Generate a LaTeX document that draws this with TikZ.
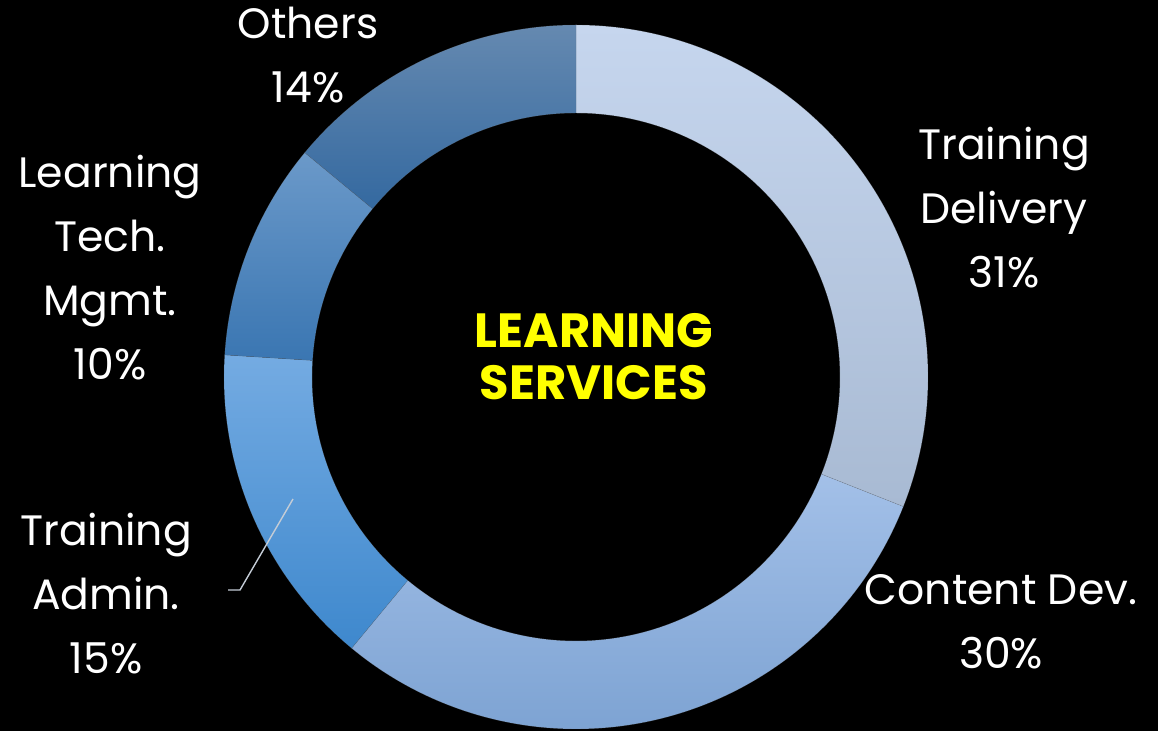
\documentclass[tikz,border=0pt]{standalone}
\usepackage{fontspec}
\setmainfont{Poppins}
\usetikzlibrary{calc}
\definecolor{delT}{HTML}{C6D6EE}\definecolor{delB}{HTML}{A8BAD3}
\definecolor{conT}{HTML}{A3C0E8}\definecolor{conB}{HTML}{7CA2D2}
\definecolor{admT}{HTML}{74ABE2}\definecolor{admB}{HTML}{3E88CD}
\definecolor{lteT}{HTML}{6B99C9}\definecolor{lteB}{HTML}{3A76B2}
\definecolor{othT}{HTML}{6589B0}\definecolor{othB}{HTML}{3469A0}
\definecolor{leadc}{HTML}{C4CCD6}
\definecolor{ctryellow}{HTML}{FFFF00}
\tikzset{
  lbl/.style={text=white, align=center, inner sep=0pt, anchor=base, font=\fontsize{42.5}{64}\selectfont},
  ctr/.style={text=ctryellow, align=center, inner sep=0pt, anchor=base, font=\fontsize{48}{52}\selectfont\bfseries},
  leader/.style={draw=leadc, line width=1.4pt},
  sep/.style={draw=black!60, line width=0.4pt, draw opacity=0.35}
}
\newcommand{\seg}[4]{% start angle, end angle, top color, bottom color
  \path[top color=#3, bottom color=#4, sep]
    ($(C)+(#1:352)$) arc[start angle=#1, end angle=#2, radius=352]
    -- ($(C)+(#2:264)$) arc[start angle=#2, end angle=#1, radius=264] -- cycle;}
\begin{document}
\begin{tikzpicture}[x=1pt,y=1pt]
\fill[black] (0,0) rectangle (1158,731);
\useasboundingbox (0,0) rectangle (1158,731);
\coordinate (C) at (576,354);
\seg{90}{-21.6}{delT}{delB}
\seg{-21.6}{-129.6}{conT}{conB}
\seg{-129.6}{-183.6}{admT}{admB}
\seg{-183.6}{-219.6}{lteT}{lteB}
\seg{-219.6}{-270}{othT}{othB}
% labels (anchored at last baseline)
\node[lbl] (del) at (1004,443) {Training\\Delivery\\31\%};
\node[lbl] (con) at (1001,63) {Content Dev.\\30\%};
\node[lbl] (adm) at (106,58) {Training\\Admin.\\15\%};
\node[lbl] (lte) at (110,351) {Learning\\Tech.\\Mgmt.\\10\%};
\node[lbl] (oth) at (308,628) {Others\\14\%};
\node[ctr] (title) at (594,331) {LEARNING\\SERVICES};
% leader line
\coordinate (admpt) at (293,232);
\coordinate (admbend) at (240,141);
\coordinate (admend) at (228,141);
\draw[leader] (admpt) -- (admbend) -- (admend);
\end{tikzpicture}
\end{document}
